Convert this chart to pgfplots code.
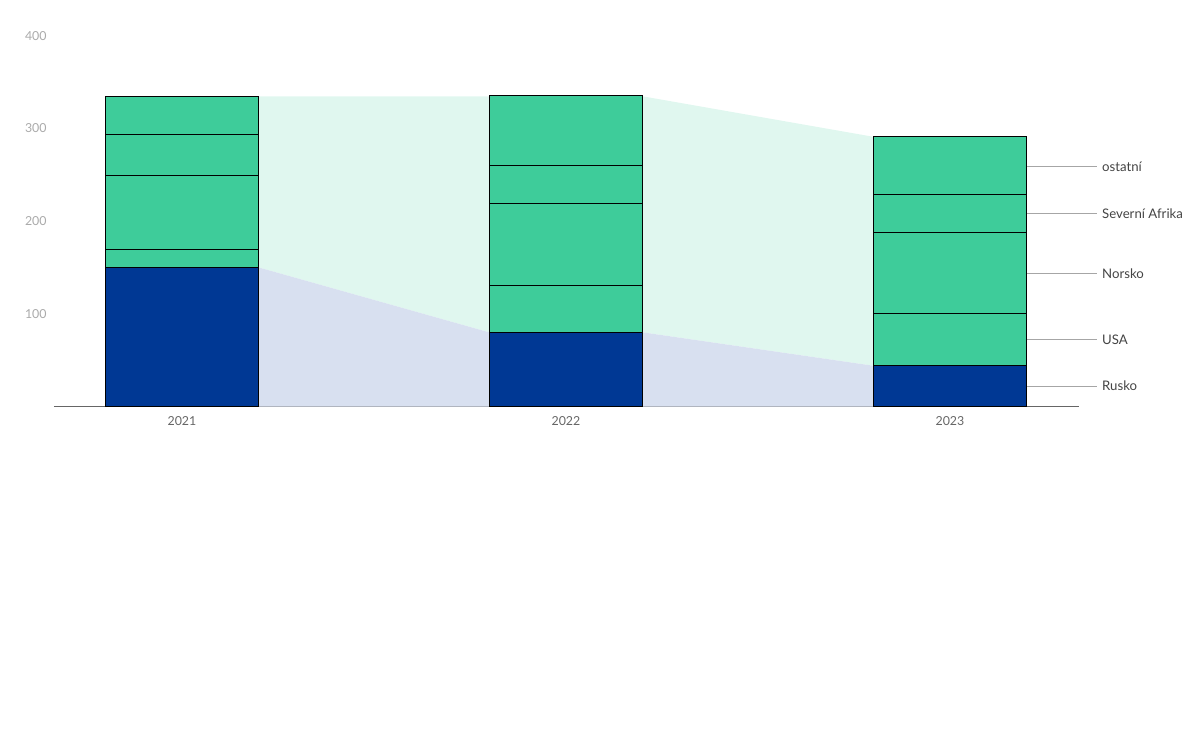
\documentclass[border=0pt]{standalone}
\usepackage{pgfplots}
\pgfplotsset{compat=1.18}
\usepackage{fontspec}
\setmainfont{Lato}

\definecolor{rusko}{RGB}{0,56,148}
\definecolor{ostatni}{RGB}{62,204,154}
\definecolor{lightgreen}{RGB}{224,247,239}
\definecolor{lightblue}{RGB}{216,224,240}
\definecolor{ticklab}{RGB}{170,170,170}
\definecolor{xlab}{RGB}{102,102,102}
\definecolor{serieslab}{RGB}{68,68,68}

\begin{document}
\begin{tikzpicture}[x=1pt,y=1pt,
    lab/.style={anchor=west, inner sep=0pt, xshift=2.5pt,
      font=\fontsize{6.6}{8}\selectfont, text=serieslab}]
  % page = 1200 x 746 px at 0.5pt per px
  \path (0,0) rectangle (600,373);

  \pgfplotsset{chart/.style={
      scale only axis, width=512.5pt, height=185.4pt,
      at={(27pt,169.75pt)}, anchor=south west,
      xmin=2020.6667, xmax=2023.336, ymin=0, ymax=400,
      clip=false}}

  % background areas, axis line and ticks
  \begin{axis}[chart,
      axis x line=bottom, axis y line=left,
      x axis line style={-, draw=xlab, line width=0.5pt},
      y axis line style={draw=none},
      major tick length=0,
      xtick={2021,2022,2023}, xticklabels={2021,2022,2023},
      ytick={100,200,300,400},
      /pgf/number format/assume math mode=true,
      yticklabel style={font=\fontsize{6.2}{7}\selectfont, text=ticklab,
        anchor=east, inner sep=0pt, xshift=-3.5pt},
      xticklabel style={font=\fontsize{6.2}{7}\selectfont, text=xlab,
        anchor=north, inner sep=0pt, yshift=-5pt},
    ]
    \addplot[draw=none, fill=lightgreen] coordinates {
      (2021.2,150) (2021.2,334.6) (2022.2,334.6) (2022.8,291)
      (2022.8,44) (2022.2,80) (2021.8,80)} -- cycle;
    \addplot[draw=none, fill=lightblue] coordinates {
      (2021.2,0) (2021.2,150) (2021.8,80) (2022.2,80) (2022.8,44)
      (2022.8,0)} -- cycle;
  \end{axis}

  % stacked bars
  \begin{axis}[chart, axis lines=none, ybar stacked, bar width=0.4,
      every axis plot/.append style={draw=black, line width=0.5pt}]
    % Rusko
    \addplot[fill=rusko] coordinates {(2021,150) (2022,80) (2023,44)};
    % USA
    \addplot[fill=ostatni] coordinates {(2021,19.5) (2022,50) (2023,56)};
    % Norsko
    \addplot[fill=ostatni] coordinates {(2021,80) (2022,89.5) (2023,88)};
    % Severni Afrika
    \addplot[fill=ostatni] coordinates {(2021,44) (2022,40) (2023,41)};
    % ostatni
    \addplot[fill=ostatni] coordinates {(2021,41) (2022,75.5) (2023,62.5)};
  \end{axis}

  % leader lines and series names
  \begin{axis}[chart, axis lines=none]
    \addplot[gray!70, line width=0.5pt] coordinates {(2023.2,22) (2023.382,22)}
      node[pos=1, lab] {Rusko};
    \addplot[gray!70, line width=0.5pt] coordinates {(2023.2,72) (2023.382,72)}
      node[pos=1, lab] {USA};
    \addplot[gray!70, line width=0.5pt] coordinates {(2023.2,143) (2023.382,143)}
      node[pos=1, lab] {Norsko};
    \addplot[gray!70, line width=0.5pt] coordinates {(2023.2,208) (2023.382,208)}
      node[pos=1, lab] {Severní Afrika};
    \addplot[gray!70, line width=0.5pt] coordinates {(2023.2,259) (2023.382,259)}
      node[pos=1, lab] {ostatní};
  \end{axis}
\end{tikzpicture}
\end{document}
